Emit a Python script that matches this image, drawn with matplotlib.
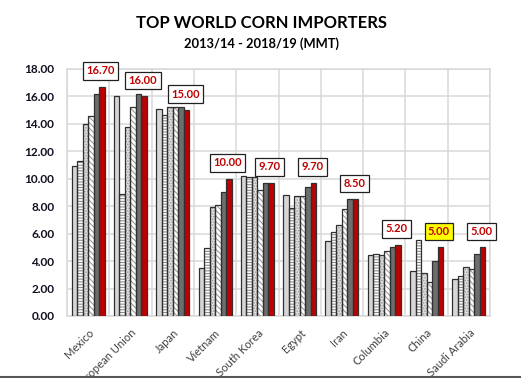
import matplotlib
matplotlib.use("Agg")
import matplotlib.pyplot as plt
import numpy as np
from matplotlib.lines import Line2D

plt.rcParams["font.family"] = ["Lato", "DejaVu Sans"]

countries = ["Mexico", "European Union", "Japan", "Vietnam", "South Korea",
             "Egypt", "Iran", "Columbia", "China", "Saudi Arabia"]
years = ["2013/14", "2014/15", "2015/16", "2016/17", "2017/18", "2018/19"]
v2013 = [10.95, 16.0, 15.1, 3.5, 10.2, 8.8, 5.5, 4.43, 3.28, 2.7]
v2014 = [11.3, 8.9, 14.65, 4.95, 10.15, 7.85, 6.1, 4.5, 5.52, 2.92]
v2015 = [14.0, 13.8, 15.2, 7.95, 10.1, 8.75, 6.6, 4.43, 3.16, 3.58]
v2016 = [14.55, 15.2, 15.2, 8.1, 9.2, 8.75, 7.8, 4.74, 2.45, 3.4]
v2017 = [16.2, 16.2, 15.2, 9.03, 9.7, 9.4, 8.5, 5.0, 4.04, 4.5]
v2018 = [16.7, 16.0, 15.0, 10.0, 9.7, 9.7, 8.5, 5.2, 5.0, 5.0]
label_highlight = [False, False, False, False, False, False, False, False, True, False]
yticks = [0, 2, 4, 6, 8, 10, 12, 14, 16, 18]

series = [v2013, v2014, v2015, v2016, v2017, v2018]

styles = [
    dict(fc="#d6d6d6", hatch=None, hc=None),
    dict(fc="#ffffff", hatch="------", hc="#8c8c8c"),
    dict(fc="#e0e0e0", hatch="......", hc="#9a9a9a"),
    dict(fc="#ffffff", hatch="\\\\\\\\\\\\", hc="#9a9a9a"),
    dict(fc="#6e6e6e", hatch=None, hc=None),
    dict(fc="#c00000", hatch=None, hc=None),
]

plt.rcParams["hatch.linewidth"] = 0.8
fig = plt.figure(figsize=(5.21, 3.78), dpi=100)
ax = fig.add_axes([67/521, 1-316/378, (490-67)/521, (316-69)/378])

n = len(countries)
x = np.arange(n)
w = 0.13
offs = (np.arange(6) - 2.5) * w

for i, (vals, st) in enumerate(zip(series, styles)):
    xs = x + offs[i]
    if st["hatch"]:
        ax.bar(xs, vals, width=w, color=st["fc"], edgecolor=st["hc"],
               hatch=st["hatch"], linewidth=0, zorder=3)
    else:
        ax.bar(xs, vals, width=w, color=st["fc"], linewidth=0, zorder=3)
    ax.bar(xs, vals, width=w, fill=False, edgecolor="#303030",
           linewidth=0.9, zorder=4)

# labels on last series
for xi, v, hl in zip(x + offs[5], v2018, label_highlight):
    ax.annotate(f"{v:.2f}", (xi - 0.03, v), xytext=(0, 7.5), textcoords="offset points",
                ha="center", va="bottom", fontsize=8, fontweight="bold",
                color="#c00000", zorder=6,
                bbox=dict(boxstyle="square,pad=0.3",
                          fc="#ffff00" if hl else "white",
                          ec="#202020", lw=0.9))

ax.set_xlim(-0.5, n - 0.5)
ax.set_ylim(0, 18)
ax.set_yticks(yticks)
ax.set_yticklabels([f"{t:.2f}" for t in yticks], fontsize=8.5, fontweight="bold",
                   color="#101020")
ax.set_xticks(x)
ax.set_xticklabels(countries, rotation=45, ha="right", rotation_mode="anchor",
                   fontsize=8, color="#404040")
ax.set_xticks(np.arange(n + 1) - 0.5, minor=True)
ax.tick_params(axis="both", which="both", length=0)
ax.tick_params(axis="y", pad=9)
ax.tick_params(axis="x", pad=8)
ax.grid(axis="y", which="major", color="#d9d9d9", linewidth=1.1, zorder=0)
ax.grid(axis="x", which="minor", color="#d9d9d9", linewidth=1.1, zorder=0)
ax.grid(axis="x", which="major", visible=False)
for s in ax.spines.values():
    s.set_color("#d9d9d9")
    s.set_linewidth(1.1)
ax.set_axisbelow(True)

fig.text(262/521, 1-23/378, "TOP WORLD CORN IMPORTERS", ha="center", va="center",
         fontsize=12, fontweight="bold", color="#000000")
fig.text(262/521, 1-44/378, "2013/14 - 2018/19 (MMT)", ha="center", va="center",
         fontsize=9.3, fontweight="bold", color="#000000")

fig.add_artist(Line2D([0, 1], [1/378, 1/378], transform=fig.transFigure,
                      color="#555555", linewidth=1.5))

fig.savefig("out.png", dpi=100, facecolor="white")
